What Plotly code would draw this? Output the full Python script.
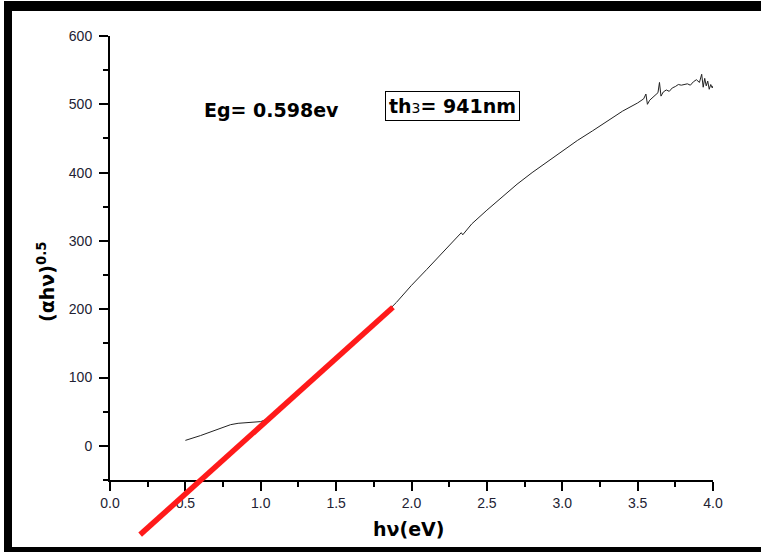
import plotly.graph_objects as go

# ---- data ----
hv = [0.50, 0.55, 0.60, 0.65, 0.70, 0.75, 0.80, 0.85, 0.90, 0.95, 1.00, 1.05,
      1.10, 1.20, 1.30, 1.40, 1.50, 1.60, 1.70, 1.80, 1.90, 2.00, 2.10, 2.20,
      2.30, 2.33, 2.34, 2.40, 2.50, 2.60, 2.70, 2.80, 2.90, 3.00, 3.10, 3.20,
      3.30, 3.40, 3.50, 3.52, 3.54, 3.555, 3.565, 3.58, 3.60, 3.62, 3.635,
      3.645, 3.655, 3.67, 3.69, 3.71, 3.73, 3.75, 3.77, 3.79, 3.81, 3.83,
      3.85, 3.87, 3.89, 3.91, 3.925, 3.935, 3.945, 3.955, 3.965, 3.975,
      3.985, 3.995, 4.00]
ahv = [8, 11, 15, 19, 23, 27, 31, 33, 34, 34.5, 35.5, 40,
       49, 68, 88, 108, 128, 148, 168, 188, 210, 235, 258, 281,
       304, 312, 309, 325, 345, 364, 383, 400, 416, 432, 447, 461,
       475, 490, 502, 505, 508, 515, 500, 506, 510, 514, 517,
       532, 512, 518, 521, 519, 524, 526, 529, 528, 529, 530,
       528, 533, 536, 532, 544, 525, 538, 527, 534, 522,
       529, 524, 527]

fit_x = [0.2, 1.877]
fit_y = [-130, 203]

x_range = [0, 4]
y_range = [-50, 600]
y2_low = -140

eg_text = "<b>Eg= 0.598ev</b>"
th_text = "<b>th</b><span style='font-size:14px'>3</span><b>= 941nm</b>"
x_title = "<b>hν(eV)</b>"
y_title = "<b>(αhν)<sup>0.5</sup></b>"

# ---- layout geometry ----
W, H = 761, 553
L, R, T, B = 110, 48, 36, 10
PW, PH = W - L - R, H - T - B
axis_bottom_px = 480
d1 = (H - B - axis_bottom_px) / PH
d2 = 1 - (1 - d1) * (y_range[1] - y2_low) / (y_range[1] - y_range[0])


def px(xp):
    return (xp - L) / PW


def py(yp):
    return (H - B - yp) / PH


FONT = "Liberation Sans, Arial, sans-serif"
BFONT = "DejaVu Sans, Liberation Sans, sans-serif"

fig = go.Figure()
fig.add_trace(go.Scatter(x=hv, y=ahv, mode="lines",
                         line=dict(color="#222222", width=1),
                         xaxis="x", yaxis="y", showlegend=False))
fig.add_trace(go.Scatter(x=fit_x, y=fit_y, mode="lines",
                         line=dict(color="#ff1a1a", width=5.5),
                         xaxis="x2", yaxis="y2", showlegend=False))

axis_common = dict(showline=True, linecolor="black", linewidth=2,
                   ticks="outside", ticklen=9, tickwidth=2, tickcolor="black",
                   showgrid=False, zeroline=False,
                   tickfont=dict(family=FONT, size=14, color="#222233"))

fig.update_layout(
    width=W, height=H,
    margin=dict(l=L, r=R, t=T, b=B),
    paper_bgcolor="white", plot_bgcolor="rgba(0,0,0,0)",
    xaxis=dict(domain=[0, 1], range=x_range, anchor="y", dtick=0.5, tick0=0,
               tickformat=".1f",
               minor=dict(dtick=0.25, ticks="outside", ticklen=5, tickwidth=2,
                          tickcolor="black"),
               **axis_common),
    yaxis=dict(domain=[d1, 1], range=y_range, anchor="x", dtick=100, tick0=0,
               ticklabelstandoff=4,
               minor=dict(dtick=50, ticks="outside", ticklen=5, tickwidth=2,
                          tickcolor="black"),
               **axis_common),
    xaxis2=dict(domain=[0, 1], range=x_range, anchor="y2", visible=False),
    yaxis2=dict(domain=[d2, 1], range=[y2_low, y_range[1]], anchor="x2",
                visible=False),
    showlegend=False,
)

ann = dict(xref="paper", yref="paper", showarrow=False,
           xanchor="center", yanchor="middle")
fig.add_annotation(text=eg_text, x=px(271), y=py(110),
                   font=dict(family=BFONT, size=19, color="black"), **ann)
fig.add_annotation(text=th_text, x=px(452), y=py(106),
                   bordercolor="black", borderwidth=1, borderpad=3,
                   bgcolor="white",
                   font=dict(family=BFONT, size=19, color="black"), **ann)
fig.add_annotation(text=x_title, x=px(408), y=py(529),
                   font=dict(family=BFONT, size=19, color="black"), **ann)
fig.add_annotation(text=y_title, x=px(46), y=py(282), textangle=-90,
                   font=dict(family=BFONT, size=19, color="black"), **ann)

# outer black frame of the picture
frame = [(4, 1, 12, 552), (4, 1, 761, 11), (4, 547, 761, 552)]
for x0, y0, x1, y1 in frame:
    fig.add_shape(type="rect", xref="paper", yref="paper",
                  x0=px(x0), x1=px(x1), y0=py(y1), y1=py(y0),
                  fillcolor="black", line=dict(width=0), layer="above")

fig.write_html("out.html")
